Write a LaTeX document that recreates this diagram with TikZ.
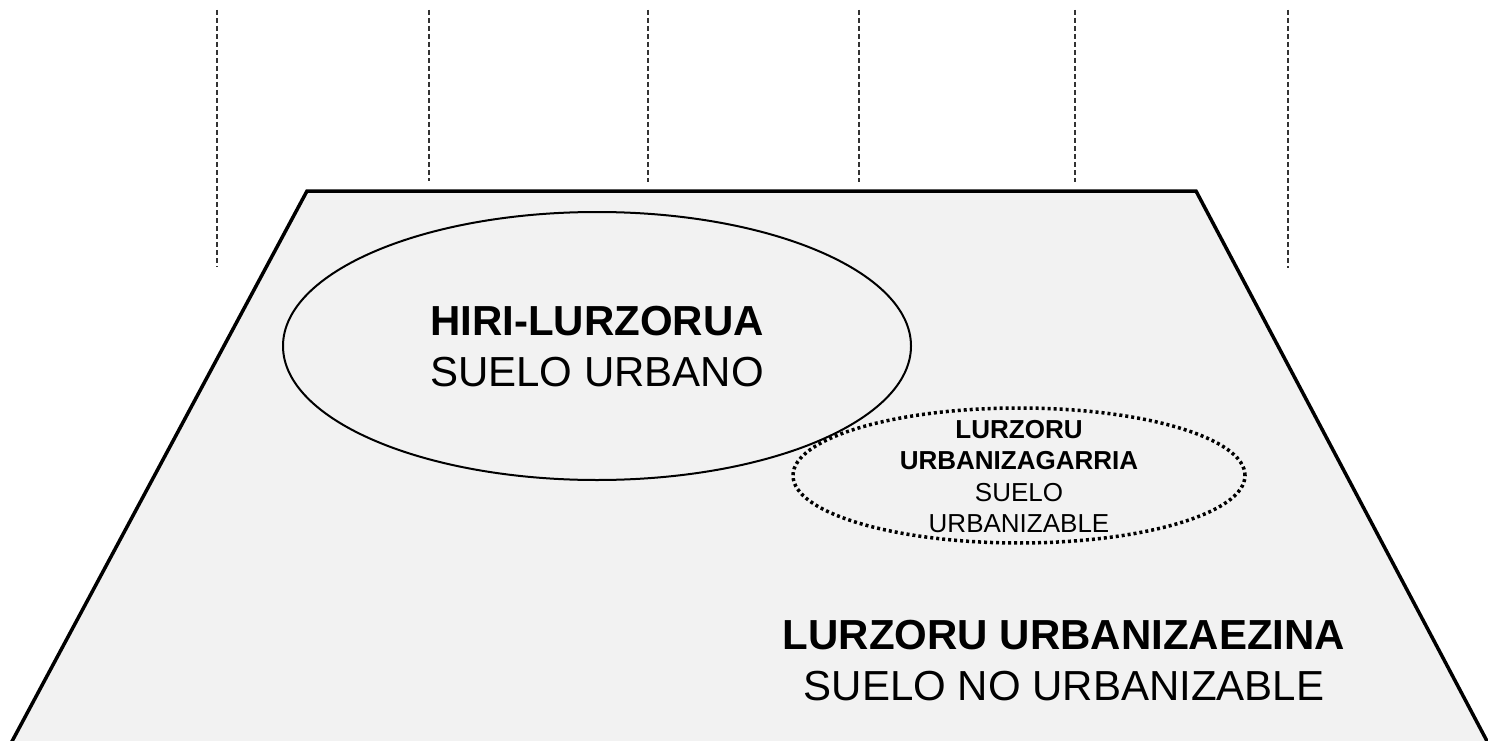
\documentclass[tikz,border=0pt]{standalone}
\usepackage{fontspec}
\setmainfont{Liberation Sans}
\definecolor{landgray}{HTML}{F2F2F2}
\tikzset{
  guide/.style={draw=black!80, line width=1.2pt, dash pattern=on 5pt off 3pt},
  land/.style={draw=black, fill=landgray, line width=3.5pt, line join=miter},
  zone/.style={draw=black, line width=2pt},
  dotzone/.style={draw=black, line width=3.5pt, dash pattern=on 3pt off 3pt},
  bigtxt/.style={align=center, inner sep=0pt, font=\fontsize{42}{51}\selectfont},
  smalltxt/.style={align=center, inner sep=0pt, font=\fontsize{26}{31.3}\selectfont}
}
\begin{document}
\begin{tikzpicture}[x=1pt, y=-1pt]
\useasboundingbox (0,0) rectangle (1488,741);
\clip (0,0) rectangle (1488,741);
\fill[white] (0,0) rectangle (1488,741);
% vertical guides
\foreach \gx/\gy [count=\i] in {217/267, 429/181, 648/182, 859/182, 1075/182, 1288/268}{
  \coordinate (gt\i) at (\gx,10);
  \coordinate (gb\i) at (\gx,\gy);
  \draw[guide] (gt\i) -- (gb\i);
}
% land
\draw[land] (2,760) -- (307,191) -- (1196,191) -- (1497,760) -- cycle;
% urban zone
\draw[zone] (597,346) ellipse [x radius=314pt, y radius=134pt];
\node[bigtxt] (urbano) at (597,347) {\textbf{HIRI-LURZORUA}\\SUELO URBANO};
% urbanizable
\draw[dotzone] (1019,475.5) ellipse [x radius=226pt, y radius=67.5pt];
\node[smalltxt] (urbanizable) at (1019,476.5) {\textbf{LURZORU}\\\textbf{URBANIZAGARRIA}\\SUELO\\URBANIZABLE};
% non urbanizable
\node[bigtxt] (nourb) at (1064,660.5) {\textbf{LURZORU URBANIZAEZINA}\\SUELO NO URBANIZABLE};
\end{tikzpicture}
\end{document}
